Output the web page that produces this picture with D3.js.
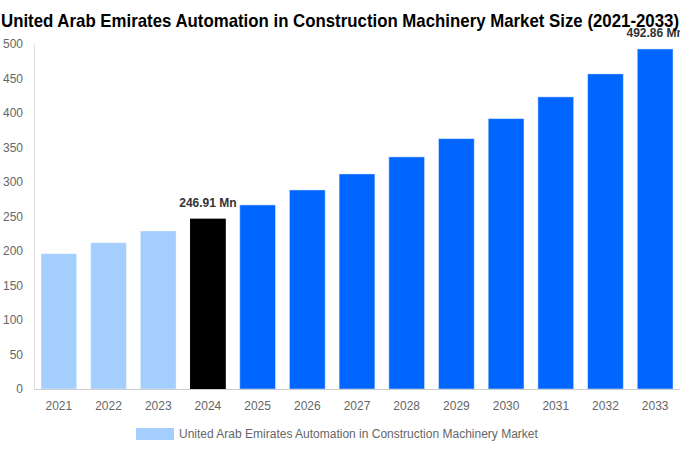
<!DOCTYPE html>
<html>
<head>
<meta charset="utf-8">
<script src="https://cdn.jsdelivr.net/npm/d3@7"></script>
<style>
  body { margin: 0; background: #fff; }
  text { font-family: "Liberation Sans", Arial, sans-serif; }
</style>
</head>
<body>
<svg id="chart" width="680" height="450"></svg>
<script>
// data
let years = ["2021","2022","2023","2024","2025","2026","2027","2028","2029","2030","2031","2032","2033"];
let values = [196.2, 212.1, 229.1, 246.91, 266.8, 288.5, 311.7, 336.4, 362.9, 391.9, 423.4, 456.7, 492.86];
let yTicks = [0, 50, 100, 150, 200, 250, 300, 350, 400, 450, 500];
let labelled = {"2024": "246.91 Mn", "2033": "492.86 Mn"};
let seriesName = "United Arab Emirates Automation in Construction Machinery Market";

let svg = d3.select("#chart"),
    margin = {top: 44, right: 0, bottom: 61, left: 34},
    width = svg.attr("width") - margin.left - margin.right,
    height = svg.attr("height") - margin.top - margin.bottom,
    g = svg.append("g").attr("transform", "translate(" + margin.left + "," + margin.top + ")");

let x = d3.scaleBand().domain(years).range([0, width]).paddingInner(0.28).paddingOuter(0.14),
    y = d3.scaleLinear().domain([0, 500]).range([height, 0]);

function barColor(yr) {
    if (+yr < 2024) return "#a4cefe";
    if (+yr === 2024) return "#000000";
    return "#0066ff";
}

//y axis
let yAxis = g.append("g")
    .call(d3.axisLeft(y).tickValues(yTicks).tickSize(0).tickPadding(11));
yAxis.select(".domain").attr("stroke", "#dddddd");
yAxis.selectAll("text").style("font-size", "12px").attr("fill", "#666");

//bars
let data = years.map(function(d, i) { return {year: d, value: values[i]}; });
g.selectAll(".bar")
    .data(data)
    .enter()
    .append("rect")
    .attr("class", "bar")
    .attr("x", function(d) { return x(d.year); })
    .attr("y", function(d) { return y(d.value); })
    .attr("width", x.bandwidth())
    .attr("height", function(d) { return height - y(d.value); })
    .attr("fill", function(d) { return barColor(d.year); })
    .attr("stroke", function(d) { return d.year === "2024" ? "none" : "rgba(255,255,255,0.45)"; })
    .attr("stroke-width", 1);

//x axis
let xAxis = g.append("g")
    .attr("transform", "translate(0," + height + ")")
    .call(d3.axisBottom(x).tickSize(0).tickPadding(12));
xAxis.select(".domain").attr("stroke", "#cccccc");
xAxis.selectAll("text").style("font-size", "12px").attr("fill", "#666");

//value labels
g.selectAll(".lbl")
    .data(data.filter(function(d) { return labelled[d.year]; }))
    .enter()
    .append("text")
    .attr("class", "lbl")
    .attr("x", function(d) { return x(d.year) + x.bandwidth() / 2; })
    .attr("y", function(d) { return y(d.value) - 12; })
    .attr("text-anchor", "middle")
    .style("font-size", "12px")
    .style("font-weight", "bold")
    .attr("fill", "#333")
    .text(function(d) { return labelled[d.year]; });

//title
svg.append("text")
    .attr("x", 340)
    .attr("y", 27)
    .attr("text-anchor", "middle")
    .attr("textLength", 678)
    .attr("lengthAdjust", "spacingAndGlyphs")
    .style("font-size", "19px")
    .style("font-weight", "bold")
    .attr("fill", "#000")
    .text("United Arab Emirates Automation in Construction Machinery Market Size (2021-2033)");

//legend
let legend = svg.append("g");
legend.append("rect")
    .attr("x", 136).attr("y", 428)
    .attr("width", 38).attr("height", 12)
    .attr("fill", "#a4cefe");
legend.append("text")
    .attr("x", 179).attr("y", 438)
    .style("font-size", "12px")
    .attr("fill", "#666")
    .text(seriesName);
</script>
</body>
</html>
